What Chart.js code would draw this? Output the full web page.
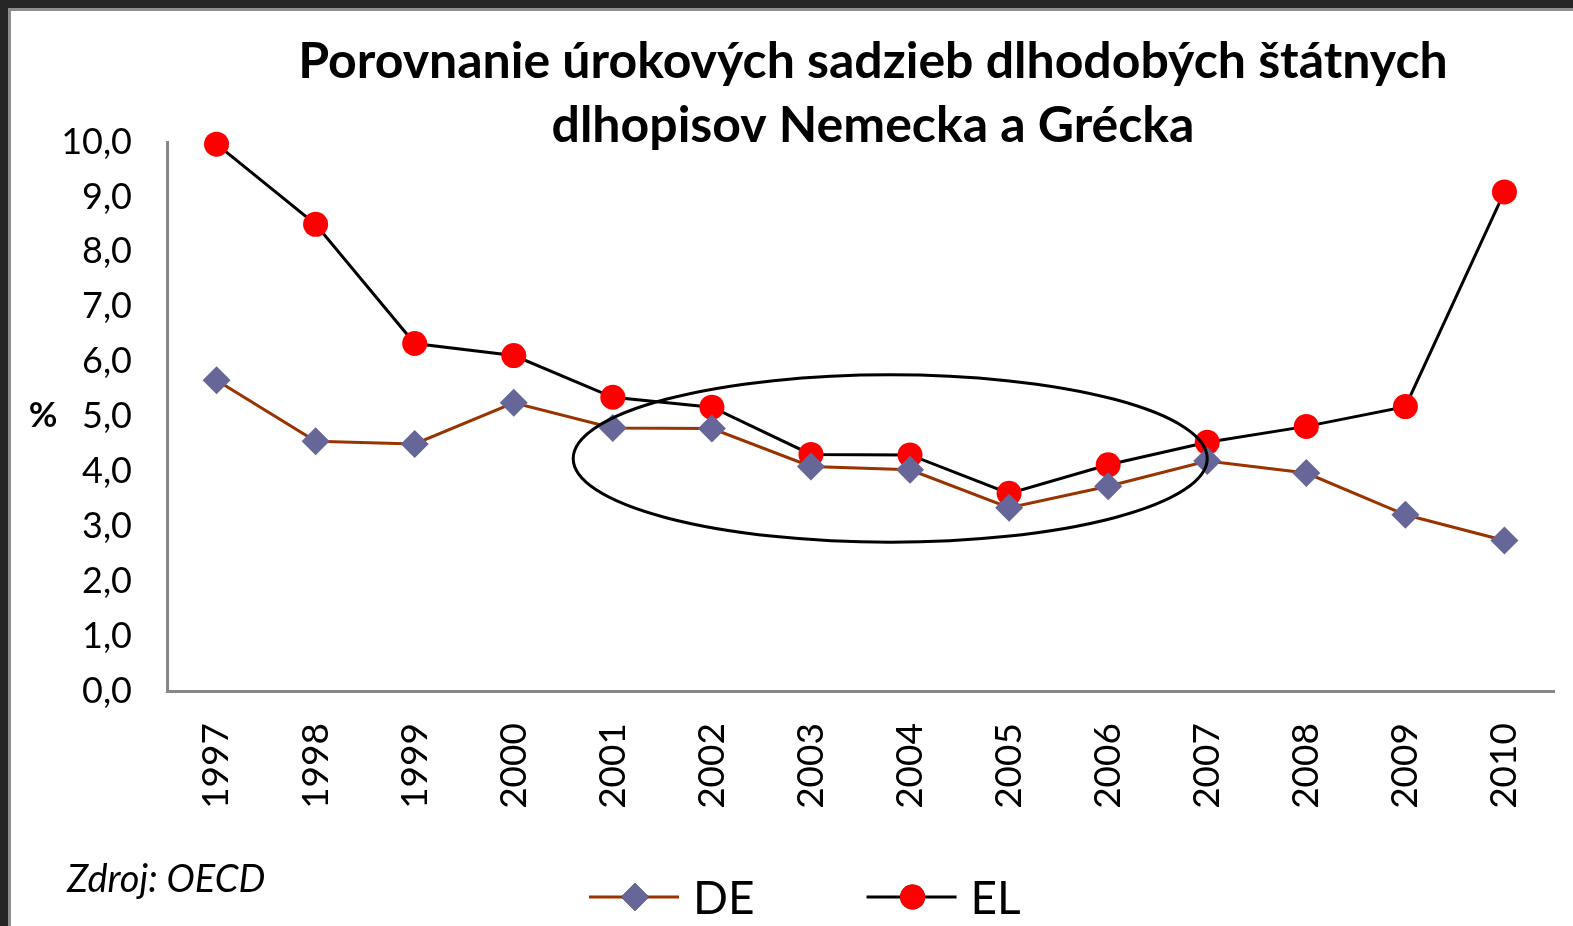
<!DOCTYPE html>
<html lang="sk">
<head>
<meta charset="utf-8">
<title>Porovnanie úrokových sadzieb dlhodobých štátnych dlhopisov</title>
<script src="https://cdn.jsdelivr.net/npm/chart.js@4.4.1/dist/chart.umd.min.js"></script>
<style>
    html, body { margin: 0; padding: 0; background: #fff; overflow: hidden; }
    canvas { display: block; }
</style>
</head>
<body>
<canvas id="bondChart" width="1573" height="926"></canvas>
<script>
// Data (% p.a., long-term government bond yields)
const years = ['1997', '1998', '1999', '2000', '2001', '2002', '2003', '2004', '2005', '2006', '2007', '2008', '2009', '2010'];
const deYields = [5.66, 4.55, 4.50, 5.25, 4.79, 4.78, 4.09, 4.03, 3.34, 3.73, 4.19, 3.97, 3.21, 2.74];
const elYields = [9.96, 8.50, 6.33, 6.11, 5.35, 5.17, 4.31, 4.30, 3.60, 4.12, 4.53, 4.82, 5.18, 9.09];
const seriesNames = ['DE', 'EL'];
const yMin = 0;
const yMax = 10;
const yStep = 1;

const titleLines = ['Porovnanie úrokových sadzieb dlhodobých štátnych', 'dlhopisov Nemecka a Grécka'];
const yAxisLabel = '%';
const sourceNote = 'Zdroj: OECD';

// highlighted period: category index range and % range of the ellipse
const ellipseSpan = [3.6, 10.0];
const ellipseRange = [2.71, 5.76];

const FONT = 'Lato, "Noto Sans", sans-serif';
const AXIS_GREY = '#878787';

// dark window frame on the top and left edge
const framePlugin = {
    id: 'frame',
    beforeDraw(chart) {
        const ctx = chart.ctx;
        ctx.save();
        ctx.fillStyle = '#fff';
        ctx.fillRect(0, 0, chart.width, chart.height);
        ctx.fillStyle = '#262626';
        ctx.fillRect(0, 0, chart.width, 8);
        ctx.fillRect(0, 0, 8, chart.height);
        ctx.fillStyle = '#8e8e8e';
        ctx.fillRect(8, 8, chart.width - 8, 3);
        ctx.fillRect(8, 8, 3, chart.height - 8);
        ctx.restore();
    }
};

// ellipse around 2001-2007
const ellipsePlugin = {
    id: 'ellipse',
    afterDatasetsDraw(chart) {
        const x = chart.scales.x, y = chart.scales.y;
        const x1 = x.getPixelForValue(ellipseSpan[0]);
        const x2 = x.getPixelForValue(ellipseSpan[1]);
        const y1 = y.getPixelForValue(ellipseRange[1]);
        const y2 = y.getPixelForValue(ellipseRange[0]);
        const ctx = chart.ctx;
        ctx.save();
        ctx.strokeStyle = '#000';
        ctx.lineWidth = 3;
        ctx.beginPath();
        ctx.ellipse((x1 + x2) / 2, (y1 + y2) / 2, (x2 - x1) / 2, (y2 - y1) / 2, 0, 0, Math.PI * 2);
        ctx.stroke();
        ctx.restore();
    }
};

// title, axis unit, source note and legend
const textPlugin = {
    id: 'texts',
    afterDraw(chart) {
        const ctx = chart.ctx;
        const area = chart.chartArea;
        ctx.save();
        ctx.fillStyle = '#000';
        ctx.textBaseline = 'alphabetic';

        // title
        ctx.textAlign = 'center';
        ctx.font = 'bold 50px ' + FONT;
        const cx = 873;
        ctx.fillText(titleLines[0], cx, 78);
        ctx.fillText(titleLines[1], cx, 142);

        // unit
        ctx.font = 'bold 35px ' + FONT;
        ctx.fillText(yAxisLabel, 43, 427);

        // source
        ctx.textAlign = 'left';
        ctx.font = 'italic 38px ' + FONT;
        ctx.fillText(sourceNote, 67, 892);

        // legend
        ctx.font = '46px ' + FONT;
        let lx = 589;
        const ly = 897;
        chart.data.datasets.forEach(ds => {
            ctx.strokeStyle = ds.borderColor;
            ctx.lineWidth = ds.borderWidth;
            ctx.beginPath();
            ctx.moveTo(lx, ly);
            ctx.lineTo(lx + 90, ly);
            ctx.stroke();
            Chart.helpers.drawPoint(ctx, {
                pointStyle: ds.pointStyle,
                radius: ds.pointRadius,
                borderWidth: 0
            }, lx + 46, ly);
            ctx.fillStyle = ds.pointBackgroundColor;
            ctx.fill();
            ctx.fillStyle = '#000';
            ctx.fillText(ds.label, lx + 104, ly + 17);
            lx += 104 + ctx.measureText(ds.label).width + 112;
        });
        ctx.restore();
    }
};

const formatTick = v => v.toFixed(1).replace('.', ',');

new Chart(document.getElementById('bondChart'), {
    type: 'line',
    data: {
        labels: years,
        datasets: [{
            label: seriesNames[0],
            data: deYields,
            borderColor: '#993300',
            borderWidth: 3,
            pointStyle: 'rectRot',
            pointRadius: 14,
            pointBackgroundColor: '#666699',
            pointBorderColor: '#666699',
            pointBorderWidth: 0,
            tension: 0,
            clip: false
        }, {
            label: seriesNames[1],
            data: elYields,
            borderColor: '#000000',
            borderWidth: 3,
            pointStyle: 'circle',
            pointRadius: 12.5,
            pointBackgroundColor: '#ff0000',
            pointBorderColor: '#ff0000',
            pointBorderWidth: 0,
            tension: 0,
            clip: false
        }]
    },
    options: {
        responsive: false,
        animation: false,
        events: [],
        layout: { padding: { top: 142, right: 19, left: 0, bottom: 0 } },
        plugins: {
            legend: { display: false },
            title: { display: false },
            tooltip: { enabled: false }
        },
        scales: {
            x: {
                offset: true,
                grid: { display: false, drawTicks: false },
                border: { color: AXIS_GREY, width: 3 },
                ticks: {
                    color: '#000',
                    font: { family: FONT, size: 37 },
                    minRotation: 90,
                    maxRotation: 90,
                    autoSkip: false,
                    padding: 32
                },
                afterFit(scale) {
                    scale.height = 235;
                    scale.paddingLeft = 0;
                    scale.paddingRight = 0;
                }
            },
            y: {
                min: yMin,
                max: yMax,
                grid: { display: false, drawTicks: false },
                border: { color: AXIS_GREY, width: 3 },
                ticks: {
                    stepSize: yStep,
                    color: '#000',
                    font: { family: FONT, size: 36 },
                    padding: 35,
                    callback: v => formatTick(v)
                },
                afterFit(scale) { scale.width = 167; }
            }
        }
    },
    plugins: [framePlugin, ellipsePlugin, textPlugin]
});
</script>
</body>
</html>
